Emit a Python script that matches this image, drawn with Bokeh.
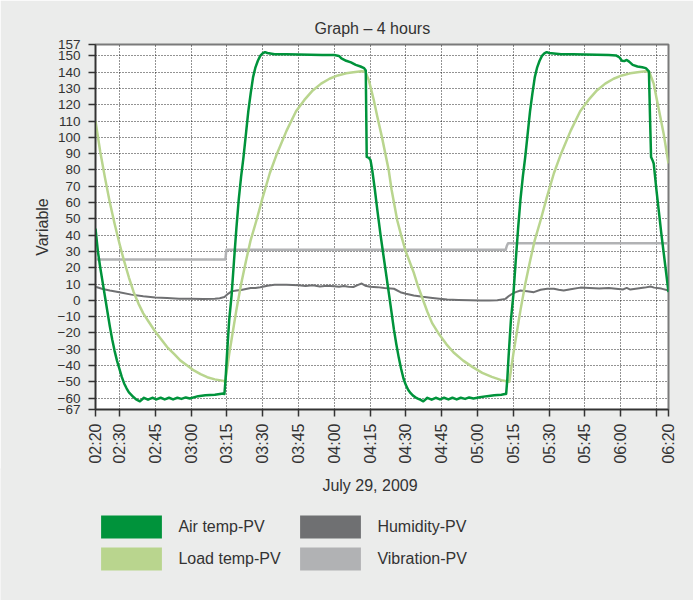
import numpy as np
from bokeh.plotting import figure
from bokeh.layouts import column
from bokeh.models import FixedTicker, Legend, LegendItem, Label
from bokeh.embed import file_html
from bokeh.resources import INLINE

# ---------------- data (x = minutes after midnight) ----------------
x_ticks = [140, 150, 165, 180, 195, 210, 225, 240, 255, 270, 285, 300, 315,
           330, 345, 360, 375, 380]
x_tick_labels = ["02:20", "02:30", "02:45", "03:00", "03:15", "03:30", "03:45",
                 "04:00", "04:15", "04:30", "04:45", "05:00", "05:15", "05:30",
                 "05:45", "06:00", "", "06:20"]
y_ticks = [-67, -60, -50, -40, -30, -20, -10, 0, 10, 20, 30, 40, 50, 60, 70,
           80, 90, 100, 110, 120, 130, 140, 150, 157]

air_t = [140, 141, 142, 143, 144, 145, 146, 147, 148, 149, 150, 151, 152, 153,
         154, 155, 156, 157, 158.6, 160.3, 162, 163.8, 165.5, 167.3, 169,
         170.8, 172.5, 174.3, 176, 177.8, 179.5, 183, 186, 190, 193.5, 194,
         194.5, 195, 196, 197, 198, 199, 200, 201, 202, 203, 204, 205, 206,
         207, 208, 209, 210, 211, 212, 215, 220, 225, 230, 235, 240, 242,
         243, 245, 247, 249, 251, 252.5, 253.2, 253.6, 254.5, 255.2, 255.9,
         257, 258, 259.4, 261, 263, 265, 266, 267, 268, 269, 270, 271, 272,
         273, 274, 275, 276, 277.3, 279, 280.8, 282.5, 284.3, 286, 287.8,
         289.5, 291.3, 293, 294.8, 296.5, 298.3, 301, 304, 307, 310, 311.5,
         312, 312.5, 313, 314, 315, 316, 317, 318, 319, 320, 321, 322, 323,
         324, 325, 326, 327, 328, 329, 330, 335, 340, 345, 350, 355, 358,
         359.5, 360.5, 361.5, 362.5, 363.5, 365, 367, 369, 370.5, 371.8,
         372.3, 372.7, 373.3, 373.8, 375, 376, 377, 378, 379, 380]
air_v = [44, 30, 20, 11, 2, -7, -16, -24, -31, -37, -42, -47, -51, -54,
         -56.5, -58, -59.5, -60.8, -62, -59.8, -61, -59.8, -60.8, -59.8, -60.8,
         -59.8, -60.8, -59.8, -60.5, -59.6, -60.2, -58.8, -58.3, -58, -57.2,
         -57.5, -48, -35, -12, 3, 24, 44, 62, 76, 88, 102, 116, 127, 137,
         143, 147, 150, 151.5, 152.3, 151.8, 151, 151, 150.8, 150.7, 150.5,
         150.5, 150, 148.5, 147, 146, 144.5, 143.5, 142.5, 141, 88, 87.5, 86,
         80, 68, 56, 40, 23.5, 3, -18, -27, -35, -42, -48, -52, -55, -57,
         -58.5, -59.5, -60.3, -61, -62, -59.8, -61, -59.8, -60.8, -59.8,
         -60.8, -59.8, -60.8, -59.8, -60.5, -59.6, -60.2, -59.5, -58.8,
         -58.3, -58, -57.5, -57.5, -48, -35, -12, 3, 24, 44, 62, 76, 88, 102,
         116, 127, 137, 143, 147, 150, 151.5, 152.3, 151.8, 151, 151, 150.8,
         150.7, 150.5, 150.3, 149, 147, 146.8, 147.5, 146.5, 144.5, 143.5,
         143, 142.5, 140.5, 110, 88, 86, 84, 67, 54, 41, 29, 17, 5]

load_t = [140, 142, 144, 146, 148, 150, 152, 154, 156, 158, 160, 162, 164.7,
          167, 170, 173, 175.6, 178, 181.2, 184, 186.8, 190, 193.7, 194.3,
          196, 197.6, 199, 201, 203, 205, 207.4, 210, 213, 216, 220, 224,
          227.5, 231, 234.5, 238, 241.5, 245, 248, 251.4, 253, 254.5, 256.6,
          258, 260, 262.8, 264, 266.4, 268, 269.8, 271.5, 273.3, 275, 277,
          279, 281, 284, 287, 290, 294, 298, 302, 306, 310, 313.3, 315, 316.6,
          318, 320, 322, 324, 326.4, 329, 332, 335, 339, 343, 346.5, 350,
          353.5, 357, 360.5, 364, 367, 370.4, 372, 373.8, 375, 376.6, 378, 380]
load_v = [110, 91, 75, 60, 47, 35, 24, 14, 5, -2, -8, -12.5, -18.5, -23,
          -28.7, -33, -37, -39.5, -43, -45.3, -47.2, -48.5, -49.5, -50, -33,
          -18.5, -6, 10, 24, 37, 49, 63, 78, 90, 104, 116, 123, 128.8, 133,
          136, 138, 139.3, 140, 140.6, 140.5, 135, 122.6, 113, 100, 80, 68, 49,
          40, 30.6, 24, 17, 9, 1, -7, -14, -21, -27, -32, -37, -41, -44.5, -47,
          -49, -50, -33, -18.5, -6, 10, 24, 37, 49, 63, 78, 90, 104, 116, 123,
          128.8, 133, 136, 138, 139.3, 140, 140.6, 140, 133, 124, 112.4, 102,
          84]

hum_t = [140, 143, 146, 150, 155, 160, 165, 170, 175, 180, 185, 190, 192, 194,
         195.5, 197, 199, 201, 203, 205, 207, 209, 212, 215, 220, 225, 228,
         231, 234, 237, 240, 242, 244, 246, 248, 250, 251.5, 253, 255, 258,
         261, 265, 267.7, 270, 273.3, 277, 280.3, 284, 287.3, 292, 297, 301.3,
         305, 308.3, 311.7, 313, 314.5, 316, 318, 320.8, 323.6, 326.4, 329.2,
         332, 334, 336.1, 339, 343.1, 347, 351, 355, 358, 361, 362.5, 364,
         367, 370, 372.5, 374, 377, 380]
hum_v = [8.3, 7, 6, 5, 3.5, 2.5, 1.8, 1.4, 1, 0.9, 0.8, 0.9, 1.3, 2, 4, 5.5,
         6, 6.3, 7, 7.5, 7.5, 8, 9, 9.5, 9.5, 9.3, 8.8, 9.2, 8.5, 9, 8.7, 8.3,
         8.8, 8.4, 8.2, 9.5, 10.3, 9, 8.3, 8.1, 7.6, 7.1, 5, 4, 3, 2.2, 1.6,
         1, 0.5, 0.2, 0, -0.1, -0.1, 0, 0.9, 2.5, 4, 5, 6, 5.6, 5, 6.5, 7.1,
         7.1, 6.5, 6, 6.8, 7.8, 7.5, 7.3, 7.5, 7.1, 6.7, 7.6, 6.6, 7.3, 7.8,
         8.5, 7.8, 7.2, 6]

vib_t = [140, 194.4, 194.8, 311.8, 312.3, 312.8, 380]
vib_v = [25, 25, 31, 31, 33.5, 35, 35]

series_names = ["Air temp-PV", "Load temp-PV", "Humidity-PV", "Vibration-PV"]

# ---------------- style ----------------
FONT = "Liberation Sans"
TEXT = "#333333"
BG = "#ebeceb"
AIR_C = "#00933b"
LOAD_C = "#b9d58e"
HUM_C = "#6f7072"
VIB_C = "#b1b2b4"

W = 693

p = figure(width=W, height=470, x_range=(140, 380), y_range=(-67, 157),
           output_backend="svg", toolbar_location=None,
           min_border_left=95, min_border_right=25, min_border_top=44,
           min_border_bottom=61, background_fill_color="white",
           border_fill_color=BG, outline_line_color="#7a7a7a",
           outline_line_width=2, title="Graph \u2013 4 hours",
           frame_align=False)

p.title.text_font = FONT
p.title.text_font_size = "16px"
p.title.text_font_style = "normal"
p.title.text_color = TEXT
p.title.align = "left"
p.title.offset = 219
p.title.standoff = 16

# axes
p.xaxis.ticker = FixedTicker(ticks=x_ticks)
p.xaxis.major_label_overrides = dict(zip(x_ticks, x_tick_labels))
p.xaxis.major_label_orientation = np.pi / 2
p.yaxis.ticker = FixedTicker(ticks=y_ticks)
for ax in (p.xaxis, p.yaxis):
    ax.axis_line_color = "#333333"
    ax.axis_line_width = 1.5
    ax.major_tick_line_color = "#333333"
    ax.major_tick_line_width = 1.5
    ax.major_tick_out = 7
    ax.major_tick_in = 0
    ax.minor_tick_line_color = None
    ax.major_label_text_font = FONT
    ax.major_label_text_color = TEXT
p.xaxis.major_label_text_font_size = "16px"
p.xaxis.major_label_standoff = 7
p.yaxis.major_label_text_font_size = "13.5px"
p.yaxis.major_label_standoff = 8
p.yaxis.axis_label = "Variable"
p.yaxis.axis_label_text_font = FONT
p.yaxis.axis_label_text_font_size = "16px"
p.yaxis.axis_label_text_font_style = "normal"
p.yaxis.axis_label_text_color = TEXT
p.yaxis.axis_label_standoff = 4

# grid
p.xgrid.ticker = FixedTicker(ticks=x_ticks[1:-1])
p.ygrid.ticker = FixedTicker(ticks=y_ticks[1:-1])
for g in (p.xgrid, p.ygrid):
    g.grid_line_color = "black"
    g.grid_line_alpha = 0.85
    g.grid_line_dash = "1 2"
    g.grid_line_width = 1

# lines
p.line(vib_t, vib_v, line_color=VIB_C, line_width=2.5, line_join="round")
p.line(hum_t, hum_v, line_color=HUM_C, line_width=2, line_join="round")
p.line(load_t, load_v, line_color=LOAD_C, line_width=2.5, line_join="round")
p.line(air_t, air_v, line_color=AIR_C, line_width=2.5, line_join="round")

# ---------------- lower panel: date caption + legend ----------------
H2 = 132
p2 = figure(width=W, height=H2, x_range=(0, 1), y_range=(0, 1),
            output_backend="svg", toolbar_location=None,
            x_axis_location=None, y_axis_location=None,
            min_border=0, min_border_left=0, min_border_right=0,
            min_border_top=0, min_border_bottom=0,
            background_fill_color=BG, border_fill_color=BG,
            outline_line_color=None, frame_align=False,
            margin=(-2, 0, 0, 0))
p2.grid.visible = False

p2.add_layout(Label(x=369.5, y=H2 - 17, x_units="screen", y_units="screen",
                    text="July 29, 2009", text_align="center",
                    text_baseline="middle", text_font=FONT,
                    text_font_size="16px", text_color=TEXT))

# legend proxies (no visible data; only their swatches are shown)
sw = {}
for name, col in zip(series_names, [AIR_C, LOAD_C, HUM_C, VIB_C]):
    sw[name] = p2.quad(left=[np.nan], right=[np.nan], top=[np.nan],
                       bottom=[np.nan], fill_color=col, line_color=None)

def make_legend(names, x):
    lg = Legend(items=[LegendItem(label=n, renderers=[sw[n]]) for n in names],
                location=(x, H2 - 105), orientation="vertical",
                glyph_width=76, glyph_height=29, spacing=3, padding=0,
                margin=0, label_standoff=9, label_text_font=FONT,
                label_text_font_size="16px", label_text_color=TEXT,
                background_fill_alpha=0, border_line_alpha=0)
    p2.add_layout(lg)

make_legend(["Air temp-PV", "Load temp-PV"], 93.4)
make_legend(["Humidity-PV", "Vibration-PV"], 292.4)

layout = column(p, p2, spacing=0)
open("out.html", "w").write(file_html(layout, INLINE))
